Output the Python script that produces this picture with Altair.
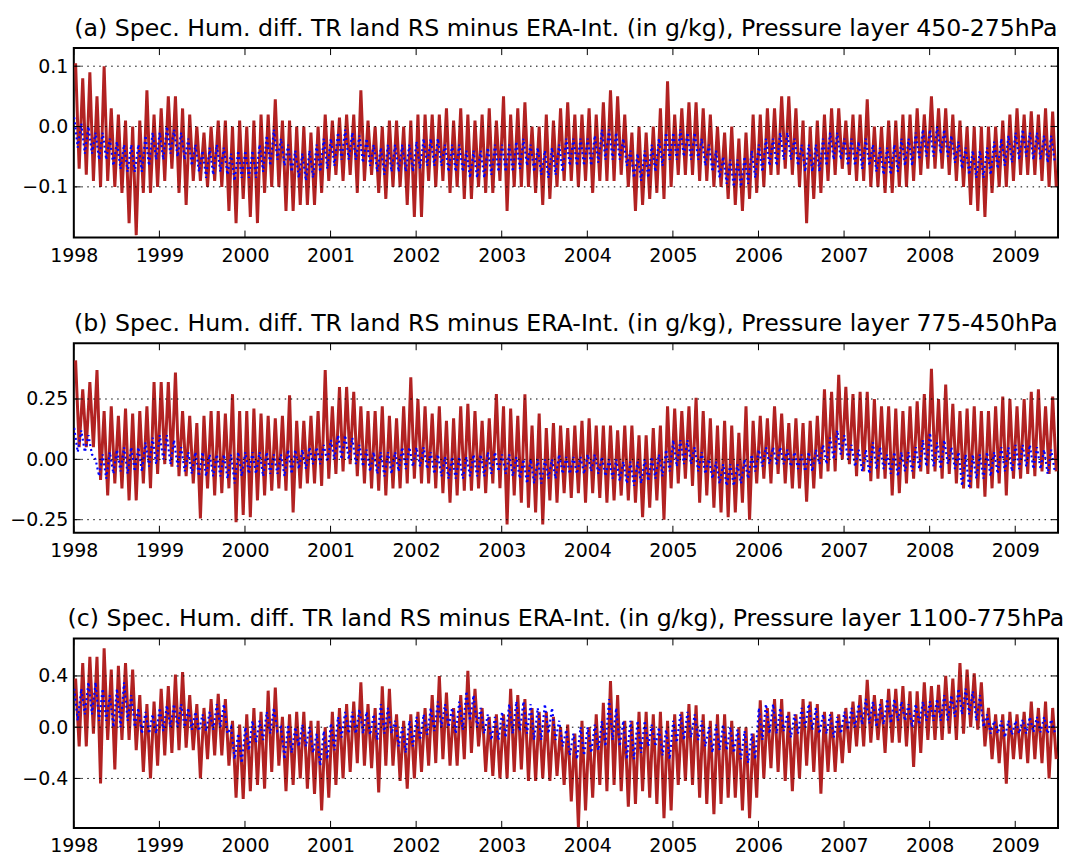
import altair as alt
import pandas as pd

# ---------------- data (monthly envelope values) ----------------
YEARS = list(range(1998, 2010))
START = 1998

TITLE_A = "(a) Spec. Hum. diff. TR land RS minus ERA-Int. (in g/kg), Pressure layer 450-275hPa"
TITLE_B = "(b) Spec. Hum. diff. TR land RS minus ERA-Int. (in g/kg), Pressure layer 775-450hPa"
TITLE_C = "(c) Spec. Hum. diff. TR land RS minus ERA-Int. (in g/kg), Pressure layer 1100-775hPa"

YTICKS_A = [-0.1, 0.0, 0.1]
YTICKS_B = [-0.25, 0.0, 0.25]
YTICKS_C = [-0.4, 0.0, 0.4]

# Panel (a): red = monthly upper / lower extremes, blue = upper / lower edge of dot cloud
A_RED_HI = [
    .105, .08, .09, .05, .10, .03, .02, .01, .00, .01, .06, .02,
    .03, .05, .05, .03, .02, .00, -.01, .00, .01, .01, .00, .01,
    .00, .01, .02, .02, .045, .01, .01, .00, .00, -.01, .00, .02,
    .01, .015, .02, .02, .06, .01, .00, .00, .01, .01, .00, .01,
    .02, .02, .02, .02, .03, .01, .03, .02, .01, .02, .03, .01,
    .05, .02, .03, .04, .00, .00, .02, .01, .03, .04, .02, .02,
    .03, .02, .04, .06, .05, .02, -.01, .00, -.01, .00, .03, .075,
    .02, .03, .04, .04, .03, .02, .00, -.01, .00, -.02, -.01, .02,
    .02, .03, .03, .05, .05, .03, .01, .00, .01, .02, .03, .03,
    .01, .02, .02, .045, .00, .00, .01, .01, .02, .02, .03, .02,
    .05, .03, .03, .02, .01, .00, .00, .00, .00, .00, .01, .02,
    .03, .02, .025, .02, .03, .025,
]
A_RED_LO = [
    -.07, -.08, -.09, -.10, -.09, -.10, -.11, -.16, -.18, -.11, -.11, -.10,
    -.09, -.07, -.11, -.13, -.09, -.09, -.10, -.09, -.10, -.14, -.16, -.12,
    -.15, -.16, -.11, -.10, -.10, -.14, -.14, -.13, -.13, -.13, -.11, -.09,
    -.08, -.09, -.08, -.11, -.09, -.08, -.11, -.12, -.10, -.10, -.13, -.15,
    -.15, -.09, -.10, -.09, -.11, -.10, -.12, -.12, -.10, -.11, -.11, -.09,
    -.14, -.10, -.10, -.10, -.11, -.13, -.12, -.10, -.09, -.09, -.10, -.09,
    -.11, -.09, -.09, -.09, -.08, -.10, -.14, -.13, -.12, -.11, -.12, -.10,
    -.08, -.08, -.08, -.09, -.09, -.10, -.10, -.12, -.13, -.14, -.12, -.11,
    -.10, -.08, -.08, -.07, -.08, -.10, -.16, -.12, -.11, -.09, -.08, -.07,
    -.08, -.09, -.09, -.10, -.10, -.11, -.11, -.10, -.10, -.09, -.08, -.07,
    -.07, -.07, -.08, -.09, -.10, -.13, -.14, -.15, -.11, -.10, -.10, -.09,
    -.08, -.08, -.08, -.09, -.10, -.10,
]
A_BLUE_HI = [
    .015, .005, .0, -.01, -.01, -.02, -.025, -.03, -.03, -.03, -.015, -.01,
    -.01, .0, -.005, -.01, -.02, -.03, -.04, -.035, -.03, -.035, -.045, -.04,
    -.04, -.04, -.03, -.015, -.005, -.02, -.03, -.04, -.045, -.04, -.03, -.02,
    -.02, -.01, -.005, -.01, -.015, -.02, -.03, -.035, -.03, -.03, -.03, -.03,
    -.025, -.02, -.02, -.02, -.03, -.03, -.03, -.04, -.04, -.04, -.035, -.03,
    -.03, -.03, -.025, -.02, -.03, -.035, -.04, -.035, -.03, -.02, -.02, -.02,
    -.02, -.015, -.005, -.005, -.01, -.02, -.04, -.045, -.04, -.03, -.02, -.01,
    -.01, -.005, -.01, -.01, -.02, -.03, -.04, -.05, -.055, -.055, -.05, -.04,
    -.03, -.02, -.02, -.01, -.01, -.02, -.03, -.03, -.03, -.02, -.01, -.01,
    -.02, -.02, -.025, -.02, -.03, -.035, -.035, -.03, -.02, -.02, -.01, -.005,
    -.005, .0, -.005, -.015, -.025, -.035, -.04, -.04, -.035, -.025, -.02, -.015,
    -.01, -.005, -.01, -.01, -.015, -.015,
]
A_BLUE_LO = [
    -.035, -.045, -.045, -.055, -.055, -.065, -.07, -.075, -.075, -.075, -.065, -.055,
    -.055, -.045, -.05, -.055, -.065, -.075, -.085, -.08, -.075, -.08, -.09, -.085,
    -.085, -.085, -.075, -.065, -.055, -.065, -.075, -.085, -.09, -.085, -.075, -.07,
    -.065, -.055, -.055, -.055, -.06, -.065, -.075, -.08, -.075, -.075, -.075, -.075,
    -.07, -.065, -.065, -.065, -.075, -.075, -.075, -.085, -.085, -.085, -.08, -.075,
    -.075, -.075, -.07, -.065, -.075, -.08, -.085, -.08, -.075, -.065, -.065, -.065,
    -.065, -.06, -.055, -.055, -.055, -.065, -.085, -.09, -.085, -.075, -.065, -.055,
    -.055, -.05, -.055, -.055, -.065, -.075, -.085, -.095, -.10, -.10, -.095, -.085,
    -.075, -.065, -.065, -.055, -.055, -.065, -.075, -.075, -.075, -.065, -.055, -.055,
    -.065, -.065, -.07, -.065, -.075, -.08, -.08, -.075, -.065, -.065, -.055, -.05,
    -.05, -.045, -.05, -.06, -.07, -.08, -.085, -.085, -.08, -.07, -.065, -.06,
    -.055, -.05, -.055, -.055, -.06, -.06,
]

# Panel (b)
B_RED_HI = [
    .41, .29, .32, .37, .20, .22, .18, .21, .19, .20, .22, .32,
    .32, .32, .36, .20, .18, .15, .18, .20, .20, .19, .27, .20,
    .20, .21, .19, .18, .17, .18, .265, .16, .16, .18, .20, .37,
    .22, .30, .30, .28, .22, .20, .20, .22, .18, .17, .22, .34,
    .25, .22, .19, .22, .16, .17, .22, .23, .20, .16, .17, .27,
    .22, .21, .18, .27, .14, .19, .13, .15, .14, .13, .14, .16,
    .17, .14, .14, .14, .12, .14, .14, .10, .10, .13, .14, .22,
    .21, .20, .22, .255, .20, .17, .14, .16, .14, .11, .22, .16,
    .18, .17, .22, .19, .15, .17, .15, .16, .18, .29, .28, .35,
    .30, .27, .28, .28, .25, .22, .22, .21, .20, .22, .24, .27,
    .375, .25, .31, .23, .20, .21, .22, .20, .20, .22, .26, .25,
    .22, .25, .28, .29, .22, .26,
]
B_RED_LO = [
    .05, .05, .05, -.085, -.15, -.10, -.12, -.17, -.17, -.10, -.12, -.06,
    -.02, -.03, -.07, -.07, -.10, -.245, -.12, -.15, -.14, -.12, -.26, -.23,
    -.24, -.17, -.15, -.13, -.12, -.13, -.22, -.12, -.10, -.10, -.11, -.08,
    -.06, -.05, -.02, -.07, -.10, -.12, -.13, -.15, -.12, -.12, -.10, -.08,
    -.10, -.10, -.12, -.14, -.18, -.15, -.13, -.13, -.12, -.14, -.10, -.12,
    -.27, -.15, -.18, -.20, -.22, -.27, -.17, -.18, -.14, -.16, -.14, -.18,
    -.14, -.16, -.18, -.17, -.15, -.17, -.18, -.24, -.20, -.17, -.25, -.12,
    -.10, -.08, -.11, -.18, -.15, -.20, -.22, -.24, -.22, -.18, -.25, -.10,
    -.08, -.10, -.06, -.10, -.12, -.12, -.175, -.12, -.08, -.05, -.05, .00,
    -.02, -.07, -.05, -.09, -.08, -.08, -.15, -.14, -.10, -.08, -.05, -.06,
    -.05, -.08, -.06, -.10, -.12, -.12, -.12, -.155, -.12, -.10, -.15, -.08,
    -.08, -.06, -.07, -.05, -.06, -.05,
]
B_BLUE_HI = [
    .13, .12, .10, .00, .02, .03, .04, .05, .05, .05, .07, .09,
    .10, .10, .08, .05, .03, .03, .03, .02, .02, .02, .02, .03,
    .03, .03, .03, .03, .02, .02, .04, .04, .04, .05, .05, .06,
    .08, .10, .10, .09, .06, .04, .03, .03, .03, .03, .05, .05,
    .05, .05, .03, .02, .01, .01, .01, .01, .02, .02, .03, .03,
    .02, .02, .01, .00, .00, .00, .00, .00, .02, .01, .01, .01,
    .02, .02, .01, .00, .00, -.01, -.01, -.01, .00, .01, .02, .04,
    .08, .08, .08, .05, .03, .00, -.01, -.02, -.02, -.02, .00, .02,
    .04, .05, .05, .05, .04, .03, .02, .03, .04, .06, .09, .12,
    .10, .06, .04, .04, .07, .05, .02, .03, .03, .03, .05, .08,
    .11, .07, .08, .05, .03, .02, .02, .02, .03, .03, .05, .05,
    .06, .06, .06, .05, .04, .04,
]
B_BLUE_LO = [
    .03, .03, .02, -.07, -.08, -.06, -.05, -.06, -.05, -.05, -.03, -.02,
    .00, -.02, -.03, -.05, -.06, -.07, -.07, -.07, -.07, -.08, -.10, -.07,
    -.06, -.06, -.07, -.06, -.06, -.07, -.06, -.04, -.04, -.02, -.02, -.01,
    .00, .00, .00, -.02, -.03, -.05, -.06, -.07, -.06, -.05, -.04, -.03,
    -.03, -.04, -.06, -.07, -.08, -.08, -.08, -.07, -.07, -.07, -.06, -.05,
    -.06, -.07, -.08, -.10, -.10, -.10, -.08, -.08, -.06, -.06, -.06, -.06,
    -.05, -.06, -.07, -.08, -.09, -.10, -.11, -.10, -.09, -.08, -.07, -.05,
    -.03, -.02, -.02, -.05, -.06, -.08, -.10, -.11, -.11, -.10, -.08, -.05,
    -.03, -.02, -.02, -.02, -.03, -.04, -.05, -.05, -.02, -.02, .00, .02,
    .00, -.03, -.05, -.06, -.04, -.04, -.06, -.07, -.05, -.05, -.04, -.03,
    -.03, -.04, -.02, -.04, -.11, -.12, -.08, -.08, -.07, -.06, -.05, -.05,
    -.04, -.03, -.04, -.04, -.06, -.05,
]

# Panel (c)
C_RED_HI = [
    .38, .50, .55, .55, .615, .45, .48, .50, .45, .25, .18, .20,
    .30, .32, .41, .43, .25, .18, .15, .22, .26, .22, .05, .02,
    .10, .15, .12, .285, .31, .08, .10, .12, .12, .05, .05, .00,
    .12, .15, .18, .20, .35, .18, .15, .32, .30, .10, .05, .10,
    .12, .15, .25, .40, .27, .15, .25, .44, .30, .15, .08, .10,
    .10, .30, .25, .22, .15, .12, .12, .08, .00, .02, -.05, .05,
    .00, .10, .19, .36, .25, .05, .05, .12, .12, .10, .12, .05,
    .10, .12, .18, .17, .10, .05, .10, .10, .05, .00, .00, -.05,
    .21, .15, .22, .22, .12, .10, .22, .20, .18, .12, .12, .10,
    .15, .20, .25, .37, .25, .22, .30, .30, .32, .28, .28, .35,
    .32, .33, .40, .38, .50, .45, .42, .35, .15, .10, .10, .12,
    .10, .12, .20, .15, .20, .15,
]
C_RED_LO = [
    -.15, -.15, -.05, -.44, -.10, -.33, -.10, -.10, -.18, -.35, -.40, -.30,
    -.22, -.20, -.18, -.16, -.18, -.40, -.25, -.22, -.22, -.30, -.55, -.56,
    -.50, -.45, -.48, -.35, -.30, -.50, -.45, -.40, -.48, -.52, -.65, -.55,
    -.45, -.40, -.35, -.28, -.30, -.32, -.51, -.30, -.30, -.42, -.48, -.40,
    -.35, -.30, -.28, -.25, -.30, -.30, -.25, -.20, -.15, -.35, -.38, -.40,
    -.40, -.35, -.33, -.42, -.42, -.40, -.42, -.38, -.45, -.58, -.78, -.65,
    -.55, -.45, -.50, -.45, -.50, -.62, -.60, -.50, -.55, -.60, -.71, -.65,
    -.45, -.42, -.45, -.55, -.60, -.68, -.60, -.55, -.55, -.65, -.71, -.55,
    -.40, -.32, -.35, -.42, -.50, -.40, -.30, -.35, -.52, -.35, -.35, -.28,
    -.20, -.15, -.15, -.12, -.10, -.20, -.12, -.12, -.15, -.31, -.20, -.10,
    -.10, -.10, -.05, -.10, -.05, .00, -.02, -.15, -.25, -.28, -.44, -.25,
    -.25, -.28, -.25, -.28, -.40, -.25,
]
C_BLUE_HI = [
    .30, .30, .35, .35, .30, .25, .30, .35, .25, .15, .12, .10,
    .15, .17, .18, .18, .15, .12, .10, .12, .18, .18, .00, -.05,
    .00, .05, .05, .12, .15, .00, .02, .00, .02, .00, -.05, -.03,
    .03, .08, .12, .12, .14, .12, .10, .18, .15, .05, .00, .05,
    .08, .10, .15, .20, .18, .15, .20, .28, .25, .15, .10, .08,
    .12, .18, .20, .20, .18, .15, .18, .15, .05, -.02, -.05, .00,
    .00, .02, .05, .22, .15, .05, .05, .05, .05, .02, .00, -.02,
    .05, .10, .12, .10, .05, .00, .02, .02, .00, -.02, -.03, -.05,
    .15, .18, .18, .15, .10, .10, .15, .18, .15, .10, .10, .08,
    .12, .15, .18, .22, .20, .18, .22, .22, .20, .18, .18, .20,
    .20, .22, .25, .25, .30, .30, .28, .25, .10, .05, .05, .05,
    .05, .06, .08, .08, .08, .06,
]
C_BLUE_LO = [
    .05, .10, .10, .05, .05, .00, .00, .05, .00, -.05, -.05, -.05,
    -.03, .00, .00, .00, -.02, -.03, -.03, -.02, .00, -.05, -.25, -.28,
    -.18, -.12, -.10, -.05, -.03, -.25, -.20, -.15, -.15, -.20, -.30, -.25,
    -.18, -.08, -.05, -.05, -.05, -.06, -.10, -.05, -.05, -.15, -.20, -.15,
    -.10, -.06, -.03, .00, .00, -.05, -.02, .05, .00, -.05, -.10, -.10,
    -.08, -.05, -.03, -.05, -.10, -.10, -.05, -.10, -.15, -.22, -.25, -.22,
    -.20, -.18, -.15, -.10, -.15, -.25, -.25, -.20, -.15, -.15, -.22, -.25,
    -.12, -.10, -.08, -.10, -.15, -.20, -.18, -.18, -.20, -.25, -.28, -.25,
    -.10, -.05, -.05, -.03, -.08, -.05, .00, -.02, -.05, -.05, -.08, -.05,
    -.02, .00, .02, .03, .00, .02, .03, .05, .05, .00, .02, .05,
    .05, .05, .05, .08, .10, .10, .05, .00, -.05, -.05, -.08, -.06,
    -.05, -.05, -.04, -.04, -.05, -.04,
]

for arr in [A_RED_HI, A_RED_LO, A_BLUE_HI, A_BLUE_LO, B_RED_HI, B_RED_LO, B_BLUE_HI,
            B_BLUE_LO, C_RED_HI, C_RED_LO, C_BLUE_HI, C_BLUE_LO]:
    assert len(arr) == 138, len(arr)

# ---------------- styling ----------------
W, H = 987, 190
FONT = "DejaVu Sans"
RED = "#b22222"
BLUE = "#0000ff"
TICK_LEN = 7


def month_frame(hi, lo, f_hi, f_lo):
    rows = []
    for i, (h, l) in enumerate(zip(hi, lo)):
        rows.append({"t": START + (i + f_hi) / 12.0, "v": h})
        rows.append({"t": START + (i + f_lo) / 12.0, "v": l})
    return pd.DataFrame(rows)


def panel(title, red_hi, red_lo, blue_hi, blue_lo, ydom, yticks, fmt):
    xscale = alt.Scale(domain=[1998, 2009.5], nice=False, zero=False)
    yscale = alt.Scale(domain=ydom, nice=False, zero=False)
    xaxis = alt.Axis(values=YEARS, format="d", ticks=False, tickSize=0, domain=False,
                     grid=False, labelPadding=9, labelFontSize=19, labelColor="black",
                     labelFont=FONT, labelFlush=False, labelOverlap=False)
    yaxis = alt.Axis(values=yticks, format=fmt, ticks=False, tickSize=0, domain=False,
                     grid=False, labelPadding=6, labelFontSize=19, labelColor="black",
                     labelFont=FONT, minExtent=63, maxExtent=63)
    X = alt.X("t:Q", scale=xscale, axis=xaxis, title=None)
    Y = alt.Y("v:Q", scale=yscale, axis=yaxis, title=None)

    red = alt.Chart(month_frame(red_hi, red_lo, 0.25, 0.75)).mark_line(
        color=RED, strokeWidth=3.0, clip=True
    ).encode(x=X, y=Y)
    blue = alt.Chart(month_frame(blue_hi, blue_lo, 0.05, 0.55)).mark_line(
        color=BLUE, strokeWidth=2.2, strokeDash=[2, 3], clip=True
    ).encode(x=X, y=Y)
    ytdf = pd.DataFrame({"v": yticks})
    xtdf = pd.DataFrame({"t": YEARS})
    grid = alt.Chart(ytdf).mark_rule(color="black", strokeWidth=1, strokeDash=[1.5, 4.5]).encode(y=Y)
    ytick_l = alt.Chart(ytdf).mark_rule(color="black", strokeWidth=1).encode(
        y=Y, x=alt.value(0), x2=alt.value(TICK_LEN))
    ytick_r = alt.Chart(ytdf).mark_rule(color="black", strokeWidth=1).encode(
        y=Y, x=alt.value(W - TICK_LEN), x2=alt.value(W))
    xtick_t = alt.Chart(xtdf).mark_rule(color="black", strokeWidth=1).encode(
        x=X, y=alt.value(0), y2=alt.value(TICK_LEN))
    xtick_b = alt.Chart(xtdf).mark_rule(color="black", strokeWidth=1).encode(
        x=X, y=alt.value(H - TICK_LEN), y2=alt.value(H))
    return alt.layer(red, blue, grid, ytick_l, ytick_r, xtick_t, xtick_b).properties(
        width=W, height=H,
        title=alt.TitleParams(text=title, fontSize=23.7, font=FONT, fontWeight="normal",
                              color="black", anchor="middle", frame="group", offset=-12,
                              baseline="alphabetic"),
    )


pa = panel(TITLE_A, A_RED_HI, A_RED_LO, A_BLUE_HI, A_BLUE_LO, [-0.184, 0.13], YTICKS_A, ".1f")
pb = panel(TITLE_B, B_RED_HI, B_RED_LO, B_BLUE_HI, B_BLUE_LO, [-0.304, 0.481], YTICKS_B, ".2f")
pc = panel(TITLE_C, C_RED_HI, C_RED_LO, C_BLUE_HI, C_BLUE_LO, [-0.786, 0.693], YTICKS_C, ".1f")

chart = alt.vconcat(pa, pb, pc, spacing=106, bounds="flush").properties(
    padding={"left": 0, "top": 6, "right": 0, "bottom": 0}
).configure(
    font=FONT,
    view=alt.ViewConfig(stroke="black", strokeWidth=2),
)

chart.save("out.html", embed_options={"renderer": "svg", "actions": False})
